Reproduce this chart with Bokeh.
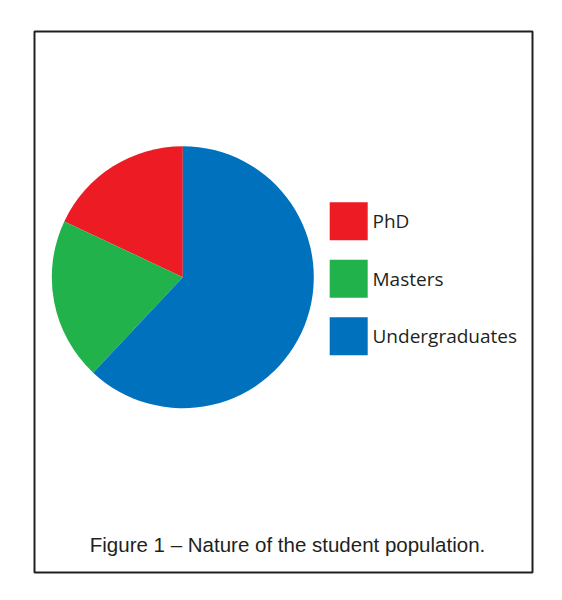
import numpy as np
from bokeh.plotting import figure
from bokeh.models import Range1d, ColumnDataSource
from bokeh.core.properties import value
from bokeh.embed import file_html
from bokeh.resources import INLINE

# Data
categories = ["PhD", "Masters", "Undergraduates"]
shares = [18, 20, 62]
colors = ["#ED1C24", "#22B24C", "#0071BC"]
caption = "Figure 1 \u2013 Nature of the student population."

W, H = 546, 584
p = figure(width=W, height=H, x_range=Range1d(0, W), y_range=Range1d(0, H),
           output_backend="svg", toolbar_location=None, min_border=0)
p.axis.visible = False
p.grid.visible = False
p.outline_line_color = None
p.background_fill_color = "white"
p.border_fill_color = "white"

# frame
p.quad(left=[34], right=[532], bottom=[12], top=[553], fill_color=None,
       line_color="#231F20", line_width=2)

# pie: anticlockwise from top, PhD first
vals = np.array(shares, dtype=float)
fr = vals / vals.sum() * 2 * np.pi
ends = np.pi / 2 + np.cumsum(fr)
starts = ends - fr
src = ColumnDataSource(dict(start=starts, end=ends, color=colors, cat=categories))
p.wedge(x=182.3, y=307.3, radius=131, start_angle="start", end_angle="end",
        fill_color="color", line_color=None, source=src)

# legend
ly = [363.3 - 57.5 * i for i in range(len(categories))]
lsrc = ColumnDataSource(dict(y=ly, color=colors, cat=categories))
p.rect(x=348.2, y="y", width=38, height=38, fill_color="color", line_color=None,
       source=lsrc)
p.text(x=372, y="y", text="cat", source=lsrc, text_font=value("Open Sans"),
       text_font_size="19px", text_baseline="middle", text_align="left",
       text_color="#231F20")

# caption
p.text(x=[287], y=[40], text=[caption], text_font=value("Liberation Sans"),
       text_font_size="20.5px", text_baseline="middle", text_align="center",
       text_color="#231F20")

open("out.html", "w").write(file_html(p, INLINE))
